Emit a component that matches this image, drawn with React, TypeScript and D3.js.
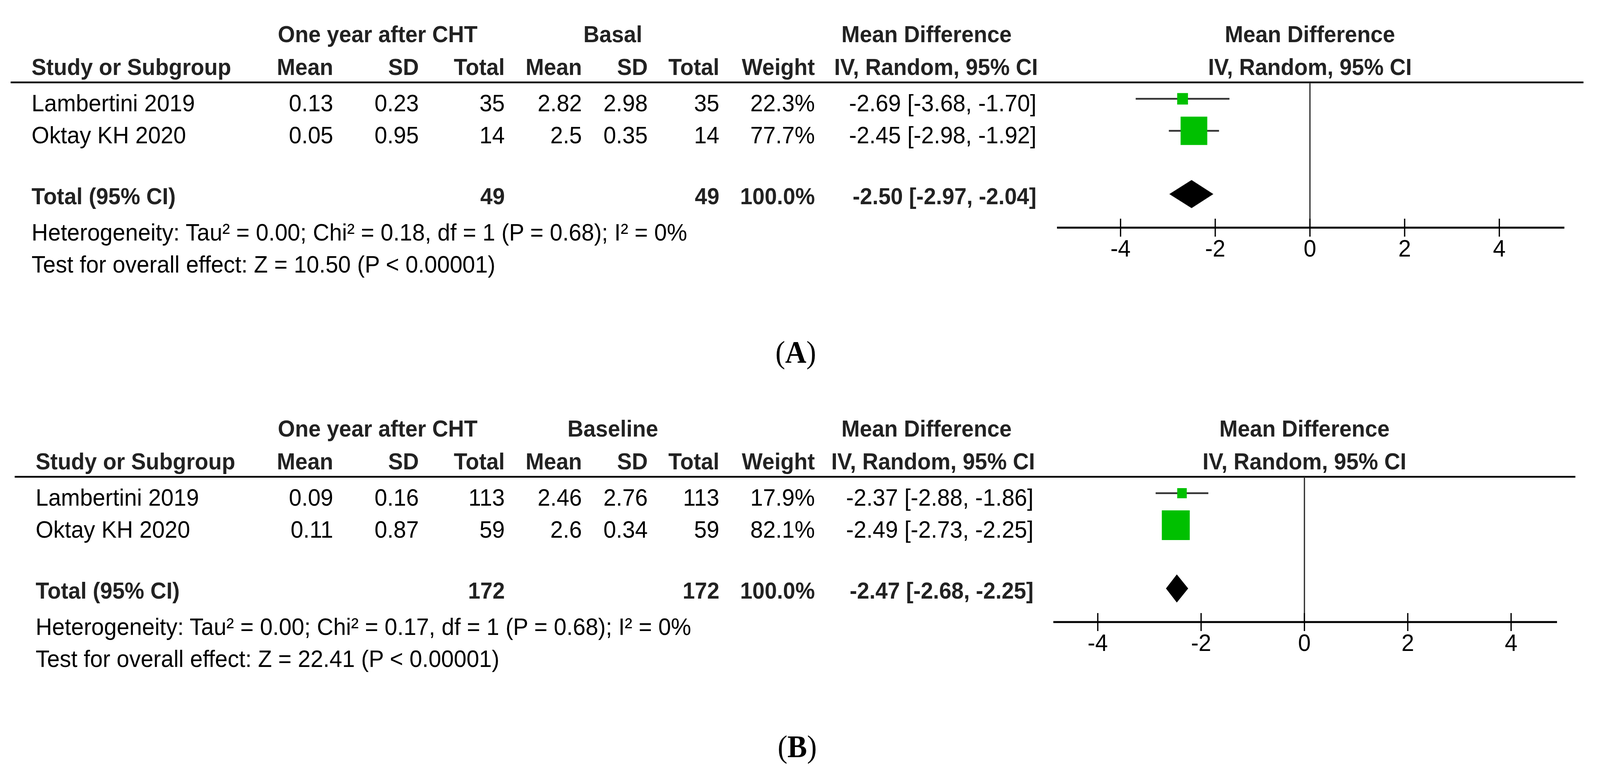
import React, { useEffect } from "react";
import * as d3 from "d3";

// ---------- data ----------
const studies = ["Lambertini 2019", "Oktay KH 2020"];
const axisTicks = [-4, -2, 0, 2, 4];

// Panel A
const aExpMean = [0.13, 0.05];
const aExpSD = [0.23, 0.95];
const aExpTotal = [35, 14];
const aCtlMean = [2.82, 2.5];
const aCtlSD = [2.98, 0.35];
const aCtlTotal = [35, 14];
const aWeight = [22.3, 77.7];
const aMD = [-2.69, -2.45];
const aLower = [-3.68, -2.98];
const aUpper = [-1.7, -1.92];
const aTotals = [49, 49];
const aPooled = [-2.5, -2.97, -2.04];
const aControlLabel = "Basal";
const aHeterogeneity = "Heterogeneity: Tau² = 0.00; Chi² = 0.18, df = 1 (P = 0.68); I² = 0%";
const aOverall = "Test for overall effect: Z = 10.50 (P < 0.00001)";

// Panel B
const bExpMean = [0.09, 0.11];
const bExpSD = [0.16, 0.87];
const bExpTotal = [113, 59];
const bCtlMean = [2.46, 2.6];
const bCtlSD = [2.76, 0.34];
const bCtlTotal = [113, 59];
const bWeight = [17.9, 82.1];
const bMD = [-2.37, -2.49];
const bLower = [-2.88, -2.73];
const bUpper = [-1.86, -2.25];
const bTotals = [172, 172];
const bPooled = [-2.47, -2.68, -2.25];
const bControlLabel = "Baseline";
const bHeterogeneity = "Heterogeneity: Tau² = 0.00; Chi² = 0.17, df = 1 (P = 0.68); I² = 0%";
const bOverall = "Test for overall effect: Z = 22.41 (P < 0.00001)";

// ---------- layout ----------
const W = 4355;
const H = 1977;
const FONT = "'Liberation Sans', Arial, sans-serif";
const BODY = 62;
const BOLD = 60;
const HEAD = "#222";

type PanelProps = {
  top: number;
  leftText: number;
  ruleX: [number, number];
  tickRange: [number, number];
  axisRange: [number, number];
  ciRight: number;
  caption: string;
  captionX: number;
  controlLabel: string;
  expMean: number[];
  expSD: number[];
  expTotal: number[];
  ctlMean: number[];
  ctlSD: number[];
  ctlTotal: number[];
  weight: number[];
  md: number[];
  lower: number[];
  upper: number[];
  totals: number[];
  pooled: number[];
  heterogeneity: string;
  overall: string;
};

const f2 = (v: number) => v.toFixed(2);
const ciText = (m: number, lo: number, hi: number) => `${f2(m)} [${f2(lo)}, ${f2(hi)}]`;

function Panel(p: PanelProps) {
  const x = d3.scaleLinear().domain([-4, 4]).range(p.tickRange);
  const boxSize = d3.scaleLinear().domain([0, 100]).range([12, 90]);
  const y = (v: number) => p.top + v;

  const header1 = 108;
  const header2 = 192;
  const ruleY = 211;
  const rowY = [285, 367];
  const totalY = 523;
  const hetY = 616;
  const testY = 698;
  const axisY = 583;
  const tickLabelY = 657;
  const captionY = 929;

  const cols = { m1: 907, s1: 1140, t1: 1374, m2: 1584, s2: 1763, t2: 1958, w: 2218 };

  const txt = (
    s: string,
    xx: number,
    yy: number,
    anchor: "start" | "middle" | "end",
    bold = false
  ) => (
    <text
      x={xx}
      y={y(yy)}
      textAnchor={anchor}
      fontFamily={FONT}
      fontSize={bold ? BOLD : BODY}
      fontWeight={bold ? "bold" : "normal"}
      fill={bold ? HEAD : "#000"}
    >
      {s}
    </text>
  );

  const [pm, plo, phi] = p.pooled;
  const dY = y(totalY - 26);
  const dh = 36;
  const diamond = [
    [x(plo), dY],
    [x(pm), dY - dh],
    [x(phi), dY],
    [x(pm), dY + dh],
  ]
    .map((q) => q.join(","))
    .join(" ");

  return (
    <g>
      {txt("One year after CHT", 1028, header1, "middle", true)}
      {txt(p.controlLabel, 1668, header1, "middle", true)}
      {txt("Mean Difference", 2522, header1, "middle", true)}
      {txt("Mean Difference", x(0), header1, "middle", true)}
      {txt("Study or Subgroup", p.leftText, header2, "start", true)}
      {txt("Mean", cols.m1, header2, "end", true)}
      {txt("SD", cols.s1, header2, "end", true)}
      {txt("Total", cols.t1, header2, "end", true)}
      {txt("Mean", cols.m2, header2, "end", true)}
      {txt("SD", cols.s2, header2, "end", true)}
      {txt("Total", cols.t2, header2, "end", true)}
      {txt("Weight", cols.w, header2, "end", true)}
      {txt("IV, Random, 95% CI", p.ciRight + 4, header2, "end", true)}
      {txt("IV, Random, 95% CI", x(0), header2, "middle", true)}
      <line x1={p.ruleX[0]} x2={p.ruleX[1]} y1={y(ruleY)} y2={y(ruleY)} stroke="#000" strokeWidth={4.5} />
      <line x1={x(0)} x2={x(0)} y1={y(ruleY)} y2={y(axisY)} stroke="#333" strokeWidth={3.5} />

      {studies.map((s, i) => {
        const ry = rowY[i];
        const cy = y(ry - 32);
        const bs = boxSize(p.weight[i]);
        return (
          <g key={s}>
            {txt(s, p.leftText, ry, "start")}
            {txt(String(p.expMean[i]), cols.m1, ry, "end")}
            {txt(String(p.expSD[i]), cols.s1, ry, "end")}
            {txt(String(p.expTotal[i]), cols.t1, ry, "end")}
            {txt(String(p.ctlMean[i]), cols.m2, ry, "end")}
            {txt(String(p.ctlSD[i]), cols.s2, ry, "end")}
            {txt(String(p.ctlTotal[i]), cols.t2, ry, "end")}
            {txt(p.weight[i].toFixed(1) + "%", cols.w, ry, "end")}
            {txt(ciText(p.md[i], p.lower[i], p.upper[i]), p.ciRight, ry, "end")}
            <line x1={x(p.lower[i])} x2={x(p.upper[i])} y1={cy} y2={cy} stroke="#333" strokeWidth={4.5} />
            <rect x={x(p.md[i]) - bs / 2} y={cy - bs / 2} width={bs} height={bs} fill="#00c000" />
          </g>
        );
      })}

      {txt("Total (95% CI)", p.leftText, totalY, "start", true)}
      {txt(String(p.totals[0]), cols.t1, totalY, "end", true)}
      {txt(String(p.totals[1]), cols.t2, totalY, "end", true)}
      {txt("100.0%", cols.w, totalY, "end", true)}
      {txt(ciText(pm, plo, phi), p.ciRight, totalY, "end", true)}
      <polygon points={diamond} fill="#000" />

      {txt(p.heterogeneity, p.leftText, hetY, "start")}
      {txt(p.overall, p.leftText, testY, "start")}

      <line x1={p.axisRange[0]} x2={p.axisRange[1]} y1={y(axisY)} y2={y(axisY)} stroke="#000" strokeWidth={5} />
      {axisTicks.map((t) => (
        <g key={t}>
          <line x1={x(t)} x2={x(t)} y1={y(axisY - 23)} y2={y(axisY + 23)} stroke="#000" strokeWidth={3.5} />
          <text x={x(t)} y={y(tickLabelY)} textAnchor="middle" fontFamily={FONT} fontSize={BODY} fill="#000">
            {String(t)}
          </text>
        </g>
      ))}

      <text
        x={p.captionX}
        y={y(captionY)}
        textAnchor="middle"
        fontFamily="'Liberation Serif', 'Times New Roman', serif"
        fontSize={80}
        fill="#000"
      >
        (<tspan fontWeight="bold">{p.caption}</tspan>)
      </text>
    </g>
  );
}

export default function App() {
  useEffect(() => {
    document.body.style.margin = "0";
    document.body.style.overflow = "hidden";
  }, []);
  return (
    <svg
      viewBox={`0 0 ${W} ${H}`}
      preserveAspectRatio="none"
      style={{ position: "fixed", left: 0, top: 0, width: "100vw", height: "100vh", display: "block", background: "#fff" }}
    >
      <rect width={W} height={H} fill="#fff" />
      <Panel
        top={0}
        leftText={86}
        ruleX={[29, 4310]}
        tickRange={[3050, 4081]}
        axisRange={[2877, 4258]}
        ciRight={2821}
        caption="A"
        captionX={2166}
        controlLabel={aControlLabel}
        expMean={aExpMean}
        expSD={aExpSD}
        expTotal={aExpTotal}
        ctlMean={aCtlMean}
        ctlSD={aCtlSD}
        ctlTotal={aCtlTotal}
        weight={aWeight}
        md={aMD}
        lower={aLower}
        upper={aUpper}
        totals={aTotals}
        pooled={aPooled}
        heterogeneity={aHeterogeneity}
        overall={aOverall}
      />
      <Panel
        top={1010}
        leftText={97}
        ruleX={[40, 4288]}
        tickRange={[2988, 4113]}
        axisRange={[2867, 4238]}
        ciRight={2813}
        caption="B"
        captionX={2170}
        controlLabel={bControlLabel}
        expMean={bExpMean}
        expSD={bExpSD}
        expTotal={bExpTotal}
        ctlMean={bCtlMean}
        ctlSD={bCtlSD}
        ctlTotal={bCtlTotal}
        weight={bWeight}
        md={bMD}
        lower={bLower}
        upper={bUpper}
        totals={bTotals}
        pooled={bPooled}
        heterogeneity={bHeterogeneity}
        overall={bOverall}
      />
    </svg>
  );
}
